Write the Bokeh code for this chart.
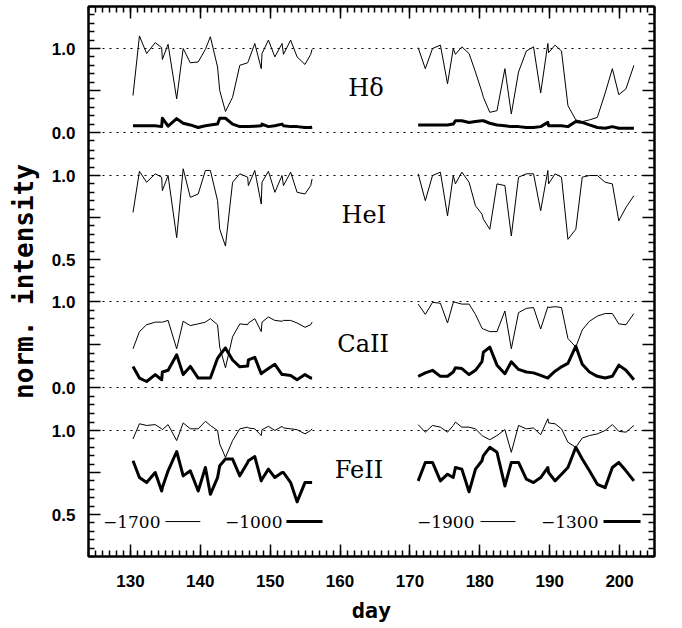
from bokeh.plotting import figure
from bokeh.models import FixedTicker, LinearAxis, Span, Label
from bokeh.embed import file_html
from bokeh.resources import INLINE

# ---------------- data ----------------
days_a = [130.37, 131.29, 132.32, 133.55, 134.47, 134.57, 135.39, 136.62, 137.55, 138.57,
          139.70, 140.73, 141.44, 142.47, 142.78, 143.60, 144.62, 145.65, 146.78, 146.88,
          147.80, 148.72, 148.83, 149.75, 150.67, 151.70, 151.90, 152.93, 153.85, 154.98,
          155.80, 156.00]
days_b = [171.18, 172.20, 173.23, 174.36, 175.38, 176.20, 176.51, 177.43, 178.46, 179.38,
          180.31, 180.51, 181.43, 182.46, 183.59, 184.51, 185.54, 186.66, 187.69, 188.71,
          189.74, 189.84, 190.77, 191.69, 192.61, 193.74, 194.66, 195.69, 196.82, 197.94,
          198.97, 199.89, 200.92, 202.05]

# H delta
hd_1700 = [0.44, 1.15, 0.94, 1.07, 1.01, 0.87, 1.05, 0.40, 1.00, 0.83, 0.84, 0.99, 1.14, 0.78,
           0.50, 0.25, 0.42, 0.80, 0.83, 0.85, 1.06, 0.76, 0.94, 1.10, 0.90, 1.06, 0.93, 1.10,
           0.90, 0.81, 0.93, 0.99]
hd_1000 = [0.08, 0.08, 0.08, 0.08, 0.07, 0.17, 0.075, 0.165, 0.11, 0.09, 0.06, 0.08, 0.09, 0.10,
           0.17, 0.17, 0.10, 0.07, 0.07, 0.07, 0.075, 0.08, 0.10, 0.07, 0.08, 0.10, 0.08, 0.07,
           0.07, 0.06, 0.06, 0.065]
hd_1900 = [1.01, 0.76, 1.00, 1.04, 0.58, 1.00, 0.93, 1.02, 0.94, 0.72, 0.48, 0.42, 0.24, 0.26,
           0.76, 0.22, 0.72, 0.97, 1.02, 0.47, 1.06, 0.95, 1.04, 0.97, 0.32, 0.15, 0.13, 0.15,
           0.18, 0.47, 0.76, 0.45, 0.52, 0.80]
hd_1300 = [0.09, 0.09, 0.09, 0.09, 0.09, 0.10, 0.14, 0.14, 0.12, 0.13, 0.14, 0.14, 0.11, 0.09,
           0.08, 0.07, 0.07, 0.06, 0.06, 0.07, 0.12, 0.08, 0.08, 0.08, 0.07, 0.13, 0.12, 0.09,
           0.06, 0.05, 0.07, 0.05, 0.05, 0.05]

# He I
he_1700 = [0.78, 1.025, 0.96, 1.01, 0.99, 0.91, 1.00, 0.63, 1.04, 0.87, 0.89, 1.03, 1.03, 0.85,
           0.68, 0.58, 0.96, 1.01, 0.99, 0.94, 1.03, 0.83, 0.96, 1.025, 0.90, 1.00, 0.94, 1.02,
           0.90, 0.89, 0.94, 0.98]
he_1900 = [1.01, 0.85, 1.00, 1.02, 0.76, 1.00, 0.95, 1.02, 0.96, 0.82, 0.77, 0.74, 0.68, 0.95,
           0.94, 0.64, 0.99, 1.01, 1.01, 0.79, 1.03, 0.95, 1.01, 0.99, 0.62, 0.68, 0.99, 1.00,
           1.00, 0.96, 0.95, 0.73, 0.81, 0.88]

# Ca II
ca_1700 = [0.45, 0.65, 0.73, 0.76, 0.76, 0.76, 0.78, 0.45, 0.77, 0.72, 0.74, 0.76, 0.80, 0.73,
           0.47, 0.23, 0.59, 0.74, 0.73, 0.75, 0.80, 0.65, 0.76, 0.82, 0.78, 0.77, 0.78, 0.78,
           0.75, 0.70, 0.73, 0.76]
ca_1000 = [0.245, 0.11, 0.07, 0.15, 0.09, 0.18, 0.20, 0.38, 0.15, 0.245, 0.11, 0.11, 0.11, 0.34,
           0.375, 0.46, 0.32, 0.24, 0.25, 0.32, 0.35, 0.16, 0.17, 0.22, 0.27, 0.15, 0.15, 0.14,
           0.09, 0.15, 0.11, 0.11]
ca_1900 = [0.97, 0.85, 0.99, 0.98, 0.75, 0.99, 0.99, 0.97, 0.97, 0.85, 0.69, 0.68, 0.65, 0.65,
           0.89, 0.45, 0.87, 0.92, 0.93, 0.68, 0.94, 0.93, 0.94, 0.93, 0.57, 0.47, 0.67, 0.77,
           0.83, 0.86, 0.86, 0.74, 0.73, 0.86]
ca_1300 = [0.13, 0.17, 0.20, 0.13, 0.13, 0.18, 0.23, 0.22, 0.15, 0.20, 0.30, 0.41, 0.47, 0.26,
           0.16, 0.30, 0.21, 0.18, 0.17, 0.14, 0.11, 0.12, 0.19, 0.24, 0.28, 0.48, 0.27, 0.18,
           0.13, 0.11, 0.13, 0.26, 0.20, 0.09]

# Fe II
fe_1700 = [0.95, 1.04, 1.03, 1.035, 1.01, 1.005, 1.035, 0.94, 1.045, 1.01, 1.01, 1.055, 1.03,
           1.00, 0.92, 0.84, 0.94, 1.01, 1.02, 1.015, 1.01, 0.97, 1.005, 1.025, 1.00, 1.025,
           1.015, 1.01, 1.005, 0.98, 1.00, 1.01]
fe_1000 = [0.82, 0.72, 0.69, 0.75, 0.64, 0.66, 0.76, 0.875, 0.73, 0.76, 0.64, 0.78, 0.62, 0.72,
           0.79, 0.83, 0.83, 0.73, 0.81, 0.82, 0.845, 0.70, 0.71, 0.77, 0.72, 0.75, 0.75, 0.69,
           0.575, 0.69, 0.69, 0.69]
fe_1900 = [1.035, 0.99, 1.03, 1.02, 0.99, 1.03, 1.05, 1.02, 1.02, 1.01, 0.97, 0.965, 0.945, 0.97,
           1.005, 0.87, 1.03, 1.01, 1.015, 0.975, 1.07, 1.045, 1.04, 1.01, 0.93, 0.90, 0.955,
           0.97, 0.98, 1.00, 1.035, 0.995, 0.99, 1.03]
fe_1300 = [0.70, 0.81, 0.81, 0.70, 0.74, 0.72, 0.78, 0.77, 0.635, 0.77, 0.82, 0.85, 0.90, 0.87,
           0.67, 0.81, 0.81, 0.71, 0.69, 0.72, 0.78, 0.75, 0.70, 0.74, 0.78, 0.90, 0.83, 0.76,
           0.68, 0.66, 0.78, 0.81, 0.76, 0.70]

panel_names = ["Hδ", "HeI", "CaII", "FeII"]
tick_labels_y = [["0.0", "1.0"], ["0.5", "1.0"], ["0.0", "1.0"], ["0.5", "1.0"]]
legend_labels = ["−1700", "−1000", "−1900", "−1300"]
x_tick_labels = [130, 140, 150, 160, 170, 180, 190, 200]

# ---------------- vertical placement of the stacked panels ----------------
PANEL_MAP = {
    "Hδ":   (0.0, 424.0, 84.0),
    "HeI":  (1.0, 381.0, 168.0),
    "CaII": (0.0, 169.0, 86.0),
    "FeII": (1.0, 126.0, 168.0),
}
TICK_SPEC = {
    "Hδ":   (-0.1, 1.5, 0.1, [0.0, 0.5, 1.0]),
    "HeI":  (0.40, 1.15, 0.05, [0.5, 0.75, 1.0]),
    "CaII": (-0.2, 1.2, 0.1, [0.0, 0.5, 1.0]),
    "FeII": (0.25, 1.10, 0.05, [0.5, 0.75, 1.0]),
}
DOTTED = {"Hδ": [0.0, 1.0], "HeI": [1.0], "CaII": [0.0, 1.0], "FeII": [1.0]}


def gpos(name, v):
    ref, base, scale = PANEL_MAP[name]
    return round(base + (v - ref) * scale, 6)


def gmap(name, vals):
    return [gpos(name, v) for v in vals]


W, H = 682, 628
p = figure(width=W, height=H, x_range=(124, 205), y_range=(0, 550),
           output_backend="svg", toolbar_location=None,
           min_border_left=88, min_border_right=28, min_border_top=6, min_border_bottom=72,
           background_fill_color="white", border_fill_color="white")
p.xgrid.visible = False
p.ygrid.visible = False
p.outline_line_color = "black"
p.outline_line_width = 2

major_y, minor_y, overrides, blank_y = [], [], {}, {}
for k, name in enumerate(panel_names):
    lo, hi, step, majors = TICK_SPEC[name]
    n = int(round((hi - lo) / step))
    for i in range(n + 1):
        v = lo + i * step
        if any(abs(v - m) < 1e-9 for m in majors):
            continue
        minor_y.append(gpos(name, v))
    for m in majors:
        g = gpos(name, m)
        major_y.append(g)
        txt = ""
        for lab in tick_labels_y[k]:
            if abs(float(lab) - m) < 1e-9:
                txt = lab
        overrides[g] = txt
        blank_y[g] = ""

yticker = FixedTicker(ticks=major_y, minor_ticks=minor_y)
xticker = FixedTicker(ticks=x_tick_labels, minor_ticks=list(range(124, 206)))

TICK_FONT = "Liberation Sans"
AX_FONT = "DejaVu Sans Mono"
SERIF = "DejaVu Serif"


def style_axis(ax):
    ax.axis_line_width = 2
    ax.axis_line_color = "black"
    ax.major_tick_in = 12
    ax.major_tick_out = 0
    ax.minor_tick_in = 6
    ax.minor_tick_out = 0
    ax.major_tick_line_width = 1.5
    ax.minor_tick_line_width = 1.5
    ax.major_tick_line_color = "black"
    ax.minor_tick_line_color = "black"


yl = p.yaxis[0]
yl.ticker = yticker
yl.major_label_overrides = overrides
yl.major_label_text_font = TICK_FONT
yl.major_label_text_font_style = "bold"
yl.major_label_text_font_size = "17px"
yl.major_label_text_color = "black"
yl.major_label_standoff = 13
yl.axis_label = "norm. intensity"
yl.axis_label_text_font = AX_FONT
yl.axis_label_text_font_style = "bold"
yl.axis_label_text_font_size = "26px"
yl.axis_label_text_color = "black"
yl.axis_label_standoff = 10
style_axis(yl)

xb = p.xaxis[0]
xb.ticker = xticker
xb.major_label_text_font = TICK_FONT
xb.major_label_text_font_style = "bold"
xb.major_label_text_font_size = "17px"
xb.major_label_text_color = "black"
xb.major_label_standoff = 18
xb.axis_label = "day"
xb.axis_label_text_font = AX_FONT
xb.axis_label_text_font_style = "bold"
xb.axis_label_text_font_size = "22px"
xb.axis_label_text_color = "black"
xb.axis_label_standoff = 8
style_axis(xb)

yr = LinearAxis(ticker=yticker, major_label_overrides=blank_y, major_label_standoff=0)
style_axis(yr)
p.add_layout(yr, "right")
xt = LinearAxis(ticker=xticker, major_label_overrides={t: "" for t in x_tick_labels},
                major_label_standoff=0)
style_axis(xt)
p.add_layout(xt, "above")

for name in panel_names:
    for v in DOTTED[name]:
        p.add_layout(Span(location=gpos(name, v), dimension="width", line_color="black",
                          line_width=1.2, line_dash="2 5"))

series = [
    ("Hδ", days_a, hd_1700, 1), ("Hδ", days_a, hd_1000, 3),
    ("Hδ", days_b, hd_1900, 1), ("Hδ", days_b, hd_1300, 3),
    ("HeI", days_a, he_1700, 1), ("HeI", days_b, he_1900, 1),
    ("CaII", days_a, ca_1700, 1), ("CaII", days_a, ca_1000, 3),
    ("CaII", days_b, ca_1900, 1), ("CaII", days_b, ca_1300, 3),
    ("FeII", days_a, fe_1700, 1), ("FeII", days_a, fe_1000, 3),
    ("FeII", days_b, fe_1900, 1), ("FeII", days_b, fe_1300, 3),
]
for name, d, vals, lw in series:
    p.line(d, gmap(name, vals), line_color="black", line_width=lw, line_join="round")

LABEL_POS = {"Hδ": (163.7, 0.524), "HeI": (163.4, 0.762), "CaII": (163.3, 0.51),
             "FeII": (162.7, 0.762)}
for name in panel_names:
    lx, lv = LABEL_POS[name]
    p.add_layout(Label(x=lx, y=gpos(name, lv), text=name, text_font=SERIF,
                       text_font_size="24px", text_align="center", text_baseline="middle",
                       text_color="black"))

LEG_V = 0.458
LEG_TEXT_END = [134.3, 151.76, 179.24, 196.98]
LEG_LINE = [(135.0, 140.0), (152.33, 157.49), (180.1, 185.1), (197.7, 203.0)]
LEG_W = [1, 3, 1, 3]
gy = gpos("FeII", LEG_V)
for i in range(4):
    p.add_layout(Label(x=LEG_TEXT_END[i], y=gy, text=legend_labels[i],
                       text_font=SERIF, text_font_size="17px",
                       text_align="right", text_baseline="middle", text_color="black"))
    x0, x1 = LEG_LINE[i]
    p.line([x0, x1], [gy, gy], line_color="black", line_width=LEG_W[i])

open("out.html", "w").write(file_html(p, INLINE))
